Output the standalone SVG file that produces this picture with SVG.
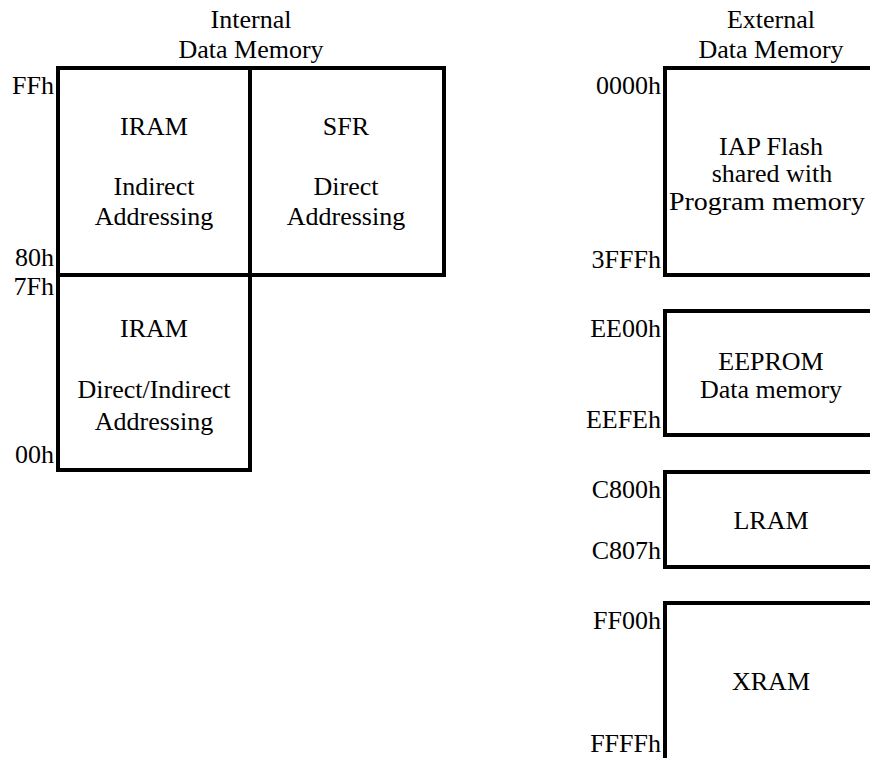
<svg xmlns="http://www.w3.org/2000/svg" width="870" height="758" viewBox="0 0 870 758">
<style>
text{font-size:26px;fill:#000}
.c{text-anchor:middle}
.r{text-anchor:end}
.box{fill:none;stroke:#000;stroke-width:4}
</style>
<rect width="870" height="758" fill="#fff"/>
<g font-family="'Liberation Serif', Tinos, 'Times New Roman', 'DejaVu Serif', serif">
<g id="titles">
<text class="c" x="251" y="28">Internal</text>
<text class="c" x="251" y="58">Data Memory</text>
<text class="c" x="771" y="28">External</text>
<text class="c" x="771" y="58">Data Memory</text>
</g>
<g id="iram-upper">
<rect class="box" x="58" y="68" width="192" height="207"/>
<text class="c" x="154" y="135">IRAM</text>
<text class="c" x="154" y="195">Indirect</text>
<text class="c" x="154" y="225">Addressing</text>
<text class="r" x="54" y="94">FFh</text>
<text class="r" x="54" y="266">80h</text>
</g>
<g id="sfr">
<rect class="box" x="250" y="68" width="194" height="207"/>
<text class="c" x="346" y="135">SFR</text>
<text class="c" x="346" y="195">Direct</text>
<text class="c" x="346" y="225">Addressing</text>
</g>
<g id="iram-lower">
<rect class="box" x="58" y="275" width="192" height="195"/>
<text class="c" x="154" y="337">IRAM</text>
<text class="c" x="154" y="398">Direct/Indirect</text>
<text class="c" x="154" y="430">Addressing</text>
<text class="r" x="54" y="295">7Fh</text>
<text class="r" x="54" y="463">00h</text>
</g>
<g id="iap-flash">
<rect class="box" x="665" y="68" width="300" height="207"/>
<text class="c" x="771" y="155">IAP Flash</text>
<text class="c" x="772" y="182">shared with</text>
<text class="c" x="767" y="210" textLength="196" lengthAdjust="spacingAndGlyphs">Program memory</text>
<text class="r" x="661" y="94">0000h</text>
<text class="r" x="661" y="268">3FFFh</text>
</g>
<g id="eeprom">
<rect class="box" x="665" y="311" width="300" height="124"/>
<text class="c" x="771" y="370">EEPROM</text>
<text class="c" x="771" y="398">Data memory</text>
<text class="r" x="661" y="337">EE00h</text>
<text class="r" x="661" y="428">EEFEh</text>
</g>
<g id="lram">
<rect class="box" x="665" y="472" width="300" height="95"/>
<text class="c" x="771" y="529">LRAM</text>
<text class="r" x="661" y="498">C800h</text>
<text class="r" x="661" y="559">C807h</text>
</g>
<g id="xram">
<rect class="box" x="665" y="603" width="300" height="200"/>
<text class="c" x="771" y="690">XRAM</text>
<text class="r" x="661" y="629">FF00h</text>
<text class="r" x="661" y="752">FFFFh</text>
</g>
</g>
<g id="connectors"></g>
</svg>
